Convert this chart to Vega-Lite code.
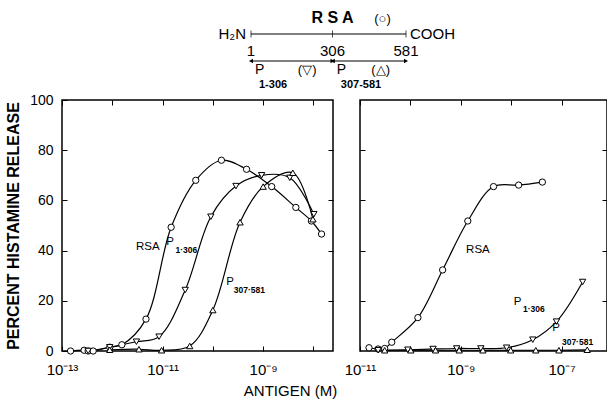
{
  "$schema": "https://vega.github.io/schema/vega-lite/v6.json",
  "padding": {"left": 4, "top": 0, "right": 0, "bottom": 0},
  "background": "white",
  "config": {
    "font": "Liberation Sans",
    "view": {"stroke": "black", "strokeWidth": 1.5},
    "axis": {"domain": false, "grid": false, "tickColor": "black", "tickWidth": 1, "labelColor": "black", "labelFont": "Liberation Sans", "labelFontSize": 14, "titleColor": "black", "titleFont": "Liberation Sans"},
    "text": {"color": "black", "font": "Liberation Sans"}
  },
  "datasets": {
    "curves": [
      {"panel": "A", "series": "RSA", "conc": 1.48e-13, "pct": 0},
      {"panel": "A", "series": "RSA", "conc": 2.75e-13, "pct": 0.3},
      {"panel": "A", "series": "RSA", "conc": 3.31e-13, "pct": 0},
      {"panel": "A", "series": "RSA", "conc": 4.17e-13, "pct": 0},
      {"panel": "A", "series": "RSA", "conc": 8.9e-13, "pct": 1.5},
      {"panel": "A", "series": "RSA", "conc": 1.55e-12, "pct": 2.5},
      {"panel": "A", "series": "RSA", "conc": 4.68e-12, "pct": 12.7},
      {"panel": "A", "series": "RSA", "conc": 1.48e-11, "pct": 49.3},
      {"panel": "A", "series": "RSA", "conc": 4.57e-11, "pct": 68},
      {"panel": "A", "series": "RSA", "conc": 1.48e-10, "pct": 76},
      {"panel": "A", "series": "RSA", "conc": 4.68e-10, "pct": 72.4},
      {"panel": "A", "series": "RSA", "conc": 1.48e-9, "pct": 65.5},
      {"panel": "A", "series": "RSA", "conc": 4.47e-9, "pct": 57.2},
      {"panel": "A", "series": "RSA", "conc": 9.1e-9, "pct": 51.8},
      {"panel": "A", "series": "RSA", "conc": 1.45e-8, "pct": 46.6},
      {"panel": "A", "series": "P1-306", "conc": 3.31e-13, "pct": 0},
      {"panel": "A", "series": "P1-306", "conc": 8.9e-13, "pct": 1.5},
      {"panel": "A", "series": "P1-306", "conc": 3.02e-12, "pct": 3.7},
      {"panel": "A", "series": "P1-306", "conc": 8.51e-12, "pct": 5.7},
      {"panel": "A", "series": "P1-306", "conc": 2.82e-11, "pct": 24.3},
      {"panel": "A", "series": "P1-306", "conc": 9.12e-11, "pct": 53.5},
      {"panel": "A", "series": "P1-306", "conc": 2.88e-10, "pct": 65.7},
      {"panel": "A", "series": "P1-306", "conc": 9.33e-10, "pct": 70},
      {"panel": "A", "series": "P1-306", "conc": 3.39e-9, "pct": 69},
      {"panel": "A", "series": "P1-306", "conc": 1.02e-8, "pct": 54.5},
      {"panel": "A", "series": "P307-581", "conc": 8.9e-13, "pct": 0.5},
      {"panel": "A", "series": "P307-581", "conc": 3.39e-12, "pct": 0.7},
      {"panel": "A", "series": "P307-581", "conc": 9.55e-12, "pct": 0.3},
      {"panel": "A", "series": "P307-581", "conc": 3.47e-11, "pct": 2},
      {"panel": "A", "series": "P307-581", "conc": 1.0e-10, "pct": 16.3},
      {"panel": "A", "series": "P307-581", "conc": 3.47e-10, "pct": 51.3},
      {"panel": "A", "series": "P307-581", "conc": 1.0e-9, "pct": 65.5},
      {"panel": "A", "series": "P307-581", "conc": 3.89e-9, "pct": 71},
      {"panel": "A", "series": "P307-581", "conc": 9.77e-9, "pct": 52.5},
      {"panel": "B", "series": "RSA", "conc": 1.51e-11, "pct": 1.3},
      {"panel": "B", "series": "RSA", "conc": 2.29e-11, "pct": 0.8},
      {"panel": "B", "series": "RSA", "conc": 3.09e-11, "pct": 1},
      {"panel": "B", "series": "RSA", "conc": 4.27e-11, "pct": 3.5},
      {"panel": "B", "series": "RSA", "conc": 1.41e-10, "pct": 13.3},
      {"panel": "B", "series": "RSA", "conc": 4.37e-10, "pct": 32.3},
      {"panel": "B", "series": "RSA", "conc": 1.38e-9, "pct": 51.8},
      {"panel": "B", "series": "RSA", "conc": 4.47e-9, "pct": 65.5},
      {"panel": "B", "series": "RSA", "conc": 1.41e-8, "pct": 66.1},
      {"panel": "B", "series": "RSA", "conc": 4.17e-8, "pct": 67.3},
      {"panel": "B", "series": "P1-306", "conc": 2.29e-11, "pct": 0.3},
      {"panel": "B", "series": "P1-306", "conc": 8.9e-11, "pct": 0.5},
      {"panel": "B", "series": "P1-306", "conc": 2.82e-10, "pct": 0.8},
      {"panel": "B", "series": "P1-306", "conc": 8.3e-10, "pct": 1},
      {"panel": "B", "series": "P1-306", "conc": 2.51e-9, "pct": 1},
      {"panel": "B", "series": "P1-306", "conc": 8.13e-9, "pct": 1.3},
      {"panel": "B", "series": "P1-306", "conc": 2.69e-8, "pct": 4.5},
      {"panel": "B", "series": "P1-306", "conc": 7.94e-8, "pct": 11.7},
      {"panel": "B", "series": "P1-306", "conc": 2.63e-7, "pct": 27.5},
      {"panel": "B", "series": "P307-581", "conc": 3.09e-11, "pct": 0.3},
      {"panel": "B", "series": "P307-581", "conc": 1.02e-10, "pct": 0.3},
      {"panel": "B", "series": "P307-581", "conc": 3.16e-10, "pct": 0.3},
      {"panel": "B", "series": "P307-581", "conc": 9.3e-10, "pct": 0.3},
      {"panel": "B", "series": "P307-581", "conc": 2.75e-9, "pct": 0.3},
      {"panel": "B", "series": "P307-581", "conc": 9.8e-9, "pct": 0.3},
      {"panel": "B", "series": "P307-581", "conc": 3.09e-8, "pct": 0.3},
      {"panel": "B", "series": "P307-581", "conc": 8.9e-8, "pct": 0.3},
      {"panel": "B", "series": "P307-581", "conc": 3.24e-7, "pct": 0.5}
    ],
    "labels": [
      {"panel": "A", "kind": "main", "text": "RSA", "conc": 5.1e-12, "pct": 41.4},
      {"panel": "A", "kind": "main", "text": "P", "conc": 1.41e-11, "pct": 43.4},
      {"panel": "A", "kind": "sub", "text": "1·306", "conc": 1.8e-11, "pct": 40.2},
      {"panel": "A", "kind": "main", "text": "P", "conc": 2.19e-10, "pct": 27.5},
      {"panel": "A", "kind": "sub", "text": "307·581", "conc": 2.6e-10, "pct": 24.3},
      {"panel": "B", "kind": "main", "text": "RSA", "conc": 2.19e-9, "pct": 40.2},
      {"panel": "B", "kind": "main", "text": "P", "conc": 1.35e-8, "pct": 19.6},
      {"panel": "B", "kind": "sub", "text": "1·306", "conc": 1.72e-8, "pct": 16.6},
      {"panel": "B", "kind": "main", "text": "P", "conc": 7.78e-8, "pct": 9.2},
      {"panel": "B", "kind": "sub", "text": "307·581", "conc": 1.02e-7, "pct": 3.6}
    ]
  },
  "spacing": 2,
  "vconcat": [
    {
      "width": 540,
      "height": 90,
      "view": {"stroke": null},
      "encoding": {
        "y": {"field": "level", "type": "quantitative", "axis": null,
              "scale": {"domain": [-0.5185, 6.148], "reverse": true, "nice": false, "zero": false}}
      },
      "layer": [
        {
          "data": {"values": [{"from": 1, "to": 581, "level": 2}]},
          "mark": {"type": "rule", "color": "black", "strokeWidth": 1},
          "encoding": {
            "x": {"field": "from", "type": "quantitative", "axis": null, "scale": {"domain": [-706.2, 1314.4], "nice": false, "zero": false}},
            "x2": {"field": "to"}
          }
        },
        {
          "data": {"values": [{"at": 1, "level": 2}, {"at": 306, "level": 2}, {"at": 581, "level": 2}]},
          "mark": {"type": "tick", "orient": "vertical", "color": "black", "size": 7, "thickness": 1},
          "encoding": {"x": {"field": "at", "type": "quantitative"}}
        },
        {
          "data": {"values": [{"at": 1, "level": 3}, {"at": 306, "level": 3}, {"at": 581, "level": 3}]},
          "mark": {"type": "text", "fontSize": 15, "dy": 3.5, "baseline": "middle"},
          "encoding": {"x": {"field": "at", "type": "quantitative"}, "text": {"field": "at"}}
        },
        {
          "data": {"values": [{"at": 1, "level": 2, "label": "H₂N"}]},
          "mark": {"type": "text", "fontSize": 15, "align": "right", "dx": -5, "baseline": "middle"},
          "encoding": {"x": {"field": "at", "type": "quantitative"}, "text": {"field": "label"}}
        },
        {
          "data": {"values": [{"at": 581, "level": 2, "label": "COOH"}]},
          "mark": {"type": "text", "fontSize": 15, "align": "left", "dx": 4, "baseline": "middle"},
          "encoding": {"x": {"field": "at", "type": "quantitative"}, "text": {"field": "label"}}
        },
        {
          "data": {"values": [{"at": 306, "level": 1, "label": "R S A"}]},
          "mark": {"type": "text", "fontSize": 16, "fontWeight": "bold", "dy": -2.5, "baseline": "middle"},
          "encoding": {"x": {"field": "at", "type": "quantitative"}, "text": {"field": "label"}}
        },
        {
          "data": {"values": [{"at": 306, "level": 1, "label": "(○)"}]},
          "mark": {"type": "text", "fontSize": 13, "dx": 50, "dy": -1.5, "baseline": "middle"},
          "encoding": {"x": {"field": "at", "type": "quantitative"}, "text": {"field": "label"}}
        },
        {
          "data": {"values": [{"start": 1, "end": 306, "level": 4}, {"start": 307, "end": 581, "level": 4}]},
          "mark": {"type": "rule", "color": "black", "strokeWidth": 1.2},
          "encoding": {"x": {"field": "start", "type": "quantitative"}, "x2": {"field": "end"}}
        },
        {
          "data": {"values": [{"at": 1, "level": 4}, {"at": 307, "level": 4}]},
          "mark": {"type": "point", "shape": "triangle-left", "filled": true, "color": "black", "size": 22, "opacity": 1},
          "encoding": {"x": {"field": "at", "type": "quantitative"}}
        },
        {
          "data": {"values": [{"at": 306, "level": 4}, {"at": 581, "level": 4}]},
          "mark": {"type": "point", "shape": "triangle-right", "filled": true, "color": "black", "size": 22, "opacity": 1},
          "encoding": {"x": {"field": "at", "type": "quantitative"}}
        },
        {
          "data": {"values": [{"at": 1, "level": 5, "label": "P"}, {"at": 307, "level": 5, "label": "P"}]},
          "mark": {"type": "text", "fontSize": 14, "align": "left", "dx": 4, "dy": -4.5, "baseline": "middle"},
          "encoding": {"x": {"field": "at", "type": "quantitative"}, "text": {"field": "label"}}
        },
        {
          "data": {"values": [{"at": 1, "level": 6, "label": "1-306"}, {"at": 307, "level": 6, "label": "307-581"}]},
          "mark": {"type": "text", "fontSize": 11, "fontWeight": "bold", "align": "left", "dx": 8, "dy": -3.5, "baseline": "middle"},
          "encoding": {"x": {"field": "at", "type": "quantitative"}, "text": {"field": "label"}}
        },
        {
          "data": {"values": [{"at": 306, "level": 5, "label": "(▽)"}, {"at": 581, "level": 5, "label": "(△)"}]},
          "mark": {"type": "text", "fontSize": 13, "align": "right", "dx": -16, "dy": -4.5, "baseline": "middle"},
          "encoding": {"x": {"field": "at", "type": "quantitative"}, "text": {"field": "label"}}
        }
      ]
    },
    {
      "hconcat": [
        {
          "width": 271,
          "height": 251,
          "layer": [
            {
              "data": {"name": "curves"},
              "transform": [{"filter": "datum.panel == 'A'"}],
              "mark": {"type": "line", "interpolate": "catmull-rom", "color": "black", "strokeWidth": 1.2},
              "encoding": {
                "x": {"field": "conc", "type": "quantitative",
                      "scale": {"type": "log", "domain": [1e-13, 2.45e-8], "nice": false},
                      "axis": {"orient": "bottom", "values": [1e-13, 1e-12, 1e-11, 1e-10, 1e-9, 1e-8], "tickSize": -5, "labelPadding": 16, "labelFlush": false, "labelOverlap": false, "labelFontSize": 15,
                               "labelExpr": "round(log(datum.value)/LN10) == -13 ? '10⁻¹³' : round(log(datum.value)/LN10) == -11 ? '10⁻¹¹' : round(log(datum.value)/LN10) == -9 ? '10⁻⁹' : round(log(datum.value)/LN10) == -7 ? '10⁻⁷' : ''",
                               "title": "ANTIGEN (M)", "titleFontSize": 15, "titleFontWeight": "normal", "titleX": 228, "titleY": 39, "titleBaseline": "middle"}},
                "y": {"field": "pct", "type": "quantitative",
                      "scale": {"domain": [0, 100], "nice": false},
                      "axis": {"orient": "left", "values": [0, 20, 40, 60, 80, 100], "tickSize": -5, "labelPadding": 14,
                               "title": "PERCENT HISTAMINE RELEASE", "titleFontSize": 16, "titleFontWeight": "bold", "titlePadding": 8}},
                "detail": {"field": "series"}
              }
            },
            {
              "data": {"name": "curves"},
              "transform": [{"filter": "datum.panel == 'A'"}],
              "mark": {"type": "point", "filled": true, "fill": "white", "stroke": "black", "strokeWidth": 1, "size": 40, "opacity": 1},
              "encoding": {
                "x": {"field": "conc", "type": "quantitative",
                      "axis": {"orient": "top", "values": [1e-13, 1e-12, 1e-11, 1e-10, 1e-9, 1e-8], "tickSize": -5, "labels": false, "title": null}},
                "y": {"field": "pct", "type": "quantitative",
                      "axis": {"orient": "right", "values": [20, 40, 60, 80], "tickSize": -5, "labels": false, "title": null}},
                "shape": {"field": "series", "type": "nominal", "legend": null,
                          "scale": {"domain": ["RSA", "P1-306", "P307-581"], "range": ["circle", "triangle-down", "triangle-up"]}}
              }
            },
            {
              "data": {"name": "labels"},
              "transform": [{"filter": "datum.panel == 'A' && datum.kind == 'main'"}],
              "mark": {"type": "text", "fontSize": 11.5, "baseline": "middle"},
              "encoding": {
                "x": {"field": "conc", "type": "quantitative", "axis": null},
                "y": {"field": "pct", "type": "quantitative", "axis": null},
                "text": {"field": "text"}
              }
            },
            {
              "data": {"name": "labels"},
              "transform": [{"filter": "datum.panel == 'A' && datum.kind == 'sub'"}],
              "mark": {"type": "text", "fontSize": 8.5, "fontWeight": "bold", "align": "left", "baseline": "middle"},
              "encoding": {
                "x": {"field": "conc", "type": "quantitative", "axis": null},
                "y": {"field": "pct", "type": "quantitative", "axis": null},
                "text": {"field": "text"}
              }
            },
            {
              "mark": {"type": "text", "text": "A", "fontSize": 19, "fontWeight": "bold", "dx": 23, "dy": 22, "baseline": "middle"},
              "encoding": {"x": {"datum": 1e-13, "type": "quantitative", "axis": null}, "y": {"datum": 100, "type": "quantitative", "axis": null}}
            },
            {
              "mark": {"type": "text", "text": "E.S.", "fontSize": 13, "align": "left", "dx": 11, "baseline": "middle"},
              "encoding": {"x": {"datum": 1e-13, "type": "quantitative", "axis": null}, "y": {"datum": 80, "type": "quantitative", "axis": null}}
            }
          ],
          "resolve": {"axis": {"x": "independent", "y": "independent"}}
        },
        {
          "width": 247,
          "height": 251,
          "layer": [
            {
              "data": {"name": "curves"},
              "transform": [{"filter": "datum.panel == 'B'"}],
              "mark": {"type": "line", "interpolate": "catmull-rom", "color": "black", "strokeWidth": 1.2},
              "encoding": {
                "x": {"field": "conc", "type": "quantitative",
                      "scale": {"type": "log", "domain": [1e-11, 8e-7], "nice": false},
                      "axis": {"orient": "bottom", "values": [1e-11, 1e-10, 1e-9, 1e-8, 1e-7], "tickSize": -5, "labelPadding": 16, "labelFlush": false, "labelOverlap": false, "labelFontSize": 15,
                               "labelExpr": "round(log(datum.value)/LN10) == -13 ? '10⁻¹³' : round(log(datum.value)/LN10) == -11 ? '10⁻¹¹' : round(log(datum.value)/LN10) == -9 ? '10⁻⁹' : round(log(datum.value)/LN10) == -7 ? '10⁻⁷' : ''",
                               "title": null}},
                "y": {"field": "pct", "type": "quantitative",
                      "scale": {"domain": [0, 100], "nice": false},
                      "axis": {"orient": "left", "values": [20, 40, 60, 80], "tickSize": -5, "labels": false, "title": null}},
                "detail": {"field": "series"}
              }
            },
            {
              "data": {"name": "curves"},
              "transform": [{"filter": "datum.panel == 'B'"}],
              "mark": {"type": "point", "filled": true, "fill": "white", "stroke": "black", "strokeWidth": 1, "size": 40, "opacity": 1},
              "encoding": {
                "x": {"field": "conc", "type": "quantitative",
                      "axis": {"orient": "top", "values": [1e-11, 1e-10, 1e-9, 1e-8, 1e-7], "tickSize": -5, "labels": false, "title": null}},
                "y": {"field": "pct", "type": "quantitative",
                      "axis": {"orient": "right", "values": [20, 40, 60, 80], "tickSize": -5, "labels": false, "title": null}},
                "shape": {"field": "series", "type": "nominal", "legend": null,
                          "scale": {"domain": ["RSA", "P1-306", "P307-581"], "range": ["circle", "triangle-down", "triangle-up"]}}
              }
            },
            {
              "data": {"name": "labels"},
              "transform": [{"filter": "datum.panel == 'B' && datum.kind == 'main'"}],
              "mark": {"type": "text", "fontSize": 11.5, "baseline": "middle"},
              "encoding": {
                "x": {"field": "conc", "type": "quantitative", "axis": null},
                "y": {"field": "pct", "type": "quantitative", "axis": null},
                "text": {"field": "text"}
              }
            },
            {
              "data": {"name": "labels"},
              "transform": [{"filter": "datum.panel == 'B' && datum.kind == 'sub'"}],
              "mark": {"type": "text", "fontSize": 8.5, "fontWeight": "bold", "align": "left", "baseline": "middle"},
              "encoding": {
                "x": {"field": "conc", "type": "quantitative", "axis": null},
                "y": {"field": "pct", "type": "quantitative", "axis": null},
                "text": {"field": "text"}
              }
            },
            {
              "mark": {"type": "text", "text": "B", "fontSize": 19, "fontWeight": "bold", "dx": 19.5, "dy": 22, "baseline": "middle"},
              "encoding": {"x": {"datum": 1e-11, "type": "quantitative", "axis": null}, "y": {"datum": 100, "type": "quantitative", "axis": null}}
            },
            {
              "mark": {"type": "text", "text": "L.W.", "fontSize": 13, "align": "left", "dx": 13, "baseline": "middle"},
              "encoding": {"x": {"datum": 1e-11, "type": "quantitative", "axis": null}, "y": {"datum": 80, "type": "quantitative", "axis": null}}
            }
          ],
          "resolve": {"axis": {"x": "independent", "y": "independent"}}
        }
      ],
      "spacing": 5
    }
  ]
}
